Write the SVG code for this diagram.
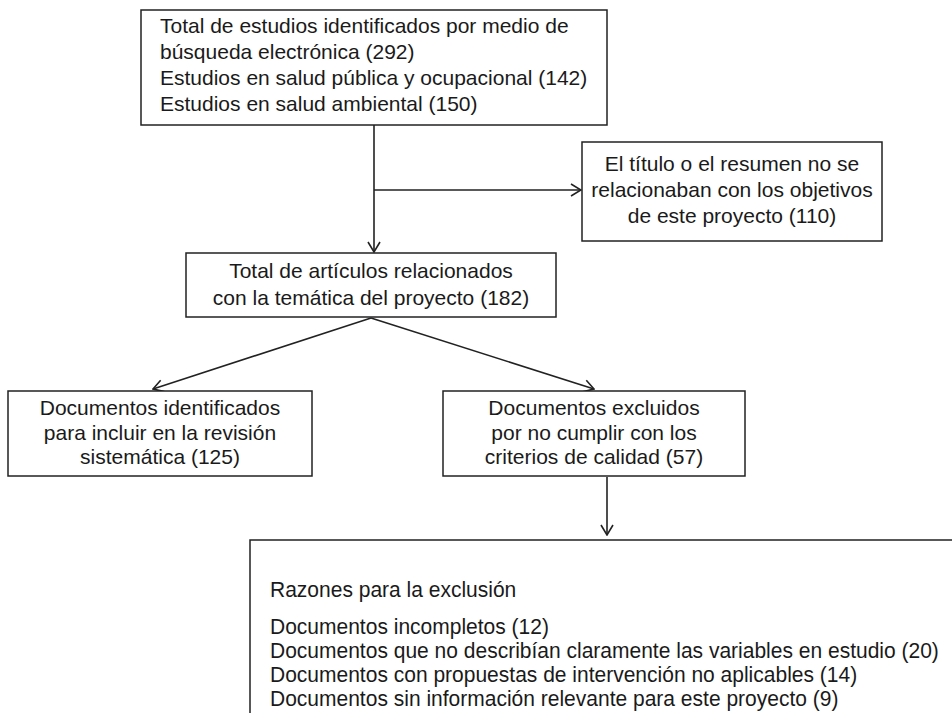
<svg xmlns="http://www.w3.org/2000/svg" width="952" height="713" viewBox="0 0 952 713">
<style>
.box{fill:#fff;stroke:#222;stroke-width:1.5}
.t{font-family:"Liberation Sans",Arial,sans-serif;font-size:21px;fill:#1a1a1a}
.c{text-anchor:middle}
.b{font-family:"Liberation Sans",Arial,sans-serif;font-size:22px;fill:#1a1a1a}
.ln{fill:none;stroke:#222;stroke-width:1.6}
</style>
<defs>
<marker id="ah" viewBox="0 0 12 14" refX="11" refY="7" markerWidth="12" markerHeight="14" markerUnits="userSpaceOnUse" orient="auto">
<path d="M1,1 L11,7 L1,13" fill="none" stroke="#222" stroke-width="1.6"/>
</marker>
</defs>
<rect width="952" height="713" fill="#fff"/>
<g id="connectors">
<line class="ln" x1="374" y1="125" x2="374" y2="252" marker-end="url(#ah)"/>
<line class="ln" x1="374" y1="190" x2="581" y2="190" marker-end="url(#ah)"/>
<line class="ln" x1="371" y1="318" x2="153" y2="389" marker-end="url(#ah)"/>
<line class="ln" x1="371" y1="318" x2="594" y2="389" marker-end="url(#ah)"/>
<line class="ln" x1="607" y1="477" x2="607" y2="535" marker-end="url(#ah)"/>
</g>
<g id="n1">
<rect class="box" x="141" y="10" width="466" height="115"/>
<text class="t" x="160" y="33">Total de estudios identificados por medio de</text>
<text class="t" x="160" y="59">búsqueda electrónica (292)</text>
<text class="t" x="160" y="85">Estudios en salud pública y ocupacional (142)</text>
<text class="t" x="160" y="111">Estudios en salud ambiental (150)</text>
</g>
<g id="n2">
<rect class="box" x="582" y="142" width="300" height="99"/>
<text class="t c" x="732" y="171">El título o el resumen no se</text>
<text class="t c" x="732" y="197">relacionaban con los objetivos</text>
<text class="t c" x="732" y="223">de este proyecto (110)</text>
</g>
<g id="n3">
<rect class="box" x="186" y="253" width="370" height="64"/>
<text class="t c" x="371" y="278">Total de artículos relacionados</text>
<text class="t c" x="371" y="305">con la temática del proyecto (182)</text>
</g>
<g id="n4">
<rect class="box" x="8" y="391" width="304" height="85"/>
<text class="t c" x="160" y="415">Documentos identificados</text>
<text class="t c" x="160" y="440">para incluir en la revisión</text>
<text class="t c" x="160" y="464">sistemática (125)</text>
</g>
<g id="n5">
<rect class="box" x="443" y="391" width="302" height="85"/>
<text class="t c" x="594" y="415">Documentos excluidos</text>
<text class="t c" x="594" y="440">por no cumplir con los</text>
<text class="t c" x="594" y="464">criterios de calidad (57)</text>
</g>
<g id="n6">
<rect class="box" x="250" y="540" width="760" height="220"/>
<g transform="translate(270,0) scale(0.955,1)">
<text class="b" x="0" y="597">Razones para la exclusión</text>
<text class="b" x="0" y="634">Documentos incompletos (12)</text>
<text class="b" x="0" y="658">Documentos que no describían claramente las variables en estudio (20)</text>
<text class="b" x="0" y="682">Documentos con propuestas de intervención no aplicables (14)</text>
<text class="b" x="0" y="706">Documentos sin información relevante para este proyecto (9)</text>
</g>
</g>
</svg>
